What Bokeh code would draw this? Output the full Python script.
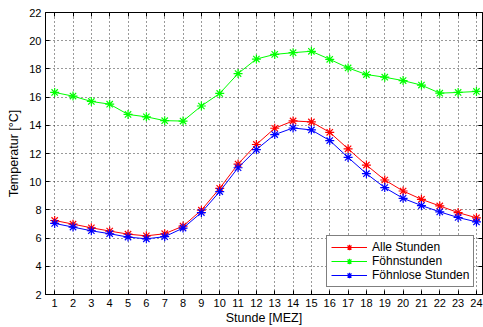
from bokeh.plotting import figure
from bokeh.models import LinearAxis, Range1d, FixedTicker, Legend, LegendItem
from bokeh.embed import file_html
from bokeh.resources import INLINE

stunden = list(range(1, 25))
alle = [7.25, 6.99, 6.73, 6.50, 6.28, 6.16, 6.31, 6.85, 7.98, 9.53, 11.25, 12.64,
        13.79, 14.31, 14.24, 13.50, 12.33, 11.18, 10.12, 9.34, 8.75, 8.28, 7.81, 7.44]
foehn = [16.33, 16.07, 15.69, 15.50, 14.77, 14.60, 14.33, 14.30, 15.37, 16.26, 17.67, 18.70,
         19.03, 19.15, 19.25, 18.68, 18.07, 17.60, 17.41, 17.17, 16.85, 16.28, 16.33, 16.40]
foehnlos = [7.04, 6.78, 6.52, 6.31, 6.07, 5.95, 6.10, 6.71, 7.81, 9.30, 10.99, 12.28,
            13.34, 13.81, 13.67, 12.92, 11.72, 10.57, 9.58, 8.82, 8.31, 7.86, 7.46, 7.15]
y_ticks = [2, 4, 6, 8, 10, 12, 14, 16, 18, 20, 22]
names = ["Alle Stunden", "Föhnstunden", "Föhnlose Stunden"]
colors = ["#ff0000", "#00ff00", "#0000ff"]

FONT = "Liberation Sans"

p = figure(width=483, height=327, output_backend="svg", toolbar_location=None,
           x_range=Range1d(0.5, 24.33), y_range=Range1d(2, 22),
           min_border_left=45, min_border_right=1, min_border_top=12, min_border_bottom=31)
p.background_fill_color = "white"
p.border_fill_color = "white"
p.outline_line_color = "black"
p.outline_line_width = 1

for ax in [p.xaxis[0], p.yaxis[0]]:
    ax.major_tick_in = 4
    ax.major_tick_out = 0
    ax.minor_tick_in = 0
    ax.minor_tick_out = 0
    ax.axis_line_color = "black"
    ax.major_tick_line_color = "black"
    ax.major_label_text_font = FONT
    ax.major_label_text_font_size = "11px"
    ax.major_label_text_color = "black"
    ax.axis_label_text_font = FONT
    ax.axis_label_text_font_size = "12.5px"
    ax.axis_label_text_font_style = "normal"
    ax.axis_label_text_color = "black"

p.xaxis[0].ticker = FixedTicker(ticks=stunden)
p.yaxis[0].ticker = FixedTicker(ticks=y_ticks)
p.xaxis[0].axis_label = "Stunde [MEZ]"
p.yaxis[0].axis_label = "Temperatur [°C]"
p.xaxis[0].major_label_standoff = 4
p.xaxis[0].axis_label_standoff = 1
p.yaxis[0].major_label_standoff = 4
p.yaxis[0].axis_label_standoff = 5

top = LinearAxis(ticker=FixedTicker(ticks=stunden), major_tick_in=4, major_tick_out=0,
                 minor_tick_in=0, minor_tick_out=0,
                 major_label_overrides={t: "" for t in stunden},
                 major_label_standoff=0, axis_line_color="black")
right = LinearAxis(ticker=FixedTicker(ticks=y_ticks), major_tick_in=4, major_tick_out=0,
                   minor_tick_in=0, minor_tick_out=0,
                   major_label_overrides={t: "" for t in y_ticks},
                   major_label_standoff=0, axis_line_color="black")
p.add_layout(top, "above")
p.add_layout(right, "right")

for g in [p.xgrid[0], p.ygrid[0]]:
    g.grid_line_color = "black"
    g.grid_line_dash = "1 3"
    g.grid_line_width = 1
    g.grid_line_alpha = 0.8
p.xgrid[0].ticker = FixedTicker(ticks=stunden)
p.ygrid[0].ticker = FixedTicker(ticks=y_ticks)

items = []
for name, ys, c in zip(names, [alle, foehn, foehnlos], colors):
    l = p.line(stunden, ys, line_color=c, line_width=1)
    s = p.scatter(stunden, ys, marker="asterisk", size=9, line_color=c, line_width=1.2)
    items.append(LegendItem(label=name, renderers=[l, s]))

legend = Legend(items=items, location=(281, 7))
legend.border_line_color = "black"
legend.border_line_width = 1
legend.background_fill_color = "white"
legend.background_fill_alpha = 1
legend.label_text_font = FONT
legend.label_text_font_size = "12px"
legend.label_text_color = "black"
legend.glyph_width = 36
legend.glyph_height = 14
legend.label_height = 14
legend.label_standoff = 5
legend.spacing = 0
legend.padding = 4
legend.margin = 0
p.add_layout(legend, "center")

open("out.html", "w").write(file_html(p, INLINE))
